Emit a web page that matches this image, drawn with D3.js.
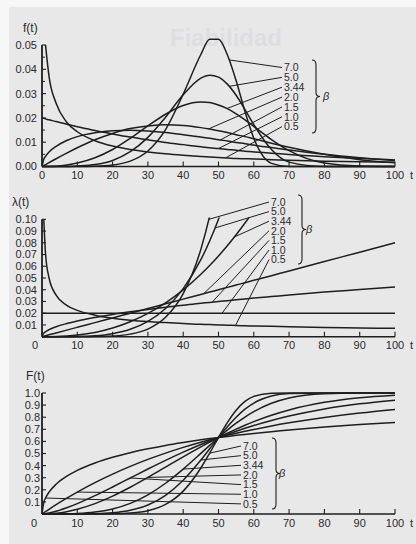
<!DOCTYPE html>
<html><head><meta charset="utf-8">
<script src="https://cdn.jsdelivr.net/npm/d3@7"></script>
<style>
html,body{margin:0;padding:0;background:#fff;}
svg{display:block;}
text{font-family:"Liberation Sans",Arial,sans-serif;}
</style></head><body>
<svg id="c" width="416" height="544"></svg>
<script>
// time grid (t)
const T = [0, 0.5, 1, 2, 4, 7, 10, 15, 20, 25, 30, 35, 40, 45, 47.5, 50, 52.5, 55, 57.5, 60, 65, 70, 80, 90, 100];
const betaLabels = ["7.0", "5.0", "3.44", "2.0", "1.5", "1.0", "0.5"];
const xTickLabels = [0, 10, 20, 30, 40, 50, 60, 70, 80, 90, 100];

// f(t), one array per beta
const f_b7   = [0,0,0,0,0,0,0,0.0001,0.0006,0.0022,0.0064,0.0152,0.0298,0.0461,0.0524,0.0524,0.046,0.0353,0.0226,0.0116,0.0013,0,0,0,0];
const f_b5   = [0,0,0,0,0,0,0.0002,0.0008,0.0025,0.0061,0.012,0.0203,0.0295,0.0364,0.0376,0.0368,0.0339,0.0293,0.0234,0.0172,0.007,0.0018,0,0,0];
const f_b344 = [0,0,0,0,0.0001,0.0006,0.0014,0.0036,0.007,0.0116,0.0167,0.0215,0.0251,0.0265,0.0263,0.0253,0.0238,0.0217,0.0192,0.0165,0.0111,0.0065,0.0014,0.0002,0];
const f_b2   = [0,0.0004,0.0008,0.0016,0.0032,0.0055,0.0077,0.011,0.0136,0.0156,0.0167,0.0172,0.0169,0.016,0.0154,0.0147,0.014,0.0131,0.0123,0.0114,0.0096,0.0079,0.005,0.0028,0.0015];
const f_b15  = [0,0.003,0.0042,0.006,0.0083,0.0107,0.0123,0.0139,0.0147,0.0149,0.0146,0.014,0.0131,0.0121,0.0116,0.011,0.0105,0.0099,0.0094,0.0088,0.0078,0.0068,0.005,0.0036,0.0025];
const f_b1   = [0.02,0.0198,0.0196,0.0192,0.0185,0.0174,0.0164,0.0148,0.0134,0.0121,0.011,0.0099,0.009,0.0081,0.0077,0.0074,0.007,0.0067,0.0063,0.006,0.0055,0.0049,0.004,0.0033,0.0027];
const f_b05  = [null,null,0.05,0.037,0.026,0.0182,0.0143,0.0106,0.0084,0.007,0.006,0.0052,0.0046,0.0041,0.0039,0.0037,0.0035,0.0033,0.0032,0.0031,0.0028,0.0026,0.0022,0.002,0.0017];

// lambda(t)
const l_b7   = [0,0,0,0,0,0,0,0.0001,0.0006,0.0022,0.0065,0.0165,0.0367,0.0744,0.1029,0.14,0.1876,0.248,0.3238,0.418,0.676,1.054,2.36,4.3,8.96];
const l_b5   = [0,0,0,0,0,0,0.0002,0.0008,0.0026,0.0063,0.013,0.024,0.041,0.0656,0.0815,0.1,0.1216,0.1464,0.1749,0.2074,0.2856,0.384,0.655,1.05,1.6];
const l_b344 = [0,0,0,0,0.0001,0.0006,0.0014,0.0036,0.0074,0.0127,0.0198,0.0288,0.0399,0.0532,0.0607,0.0688,0.0775,0.0868,0.0968,0.1074,0.1305,0.1564,0.2166,0.2887,0.3732];
const l_b2   = [0,0.0004,0.0008,0.0016,0.0032,0.0056,0.008,0.012,0.016,0.02,0.024,0.028,0.032,0.036,0.038,0.04,0.042,0.044,0.046,0.048,0.052,0.056,0.064,0.072,0.08];
const l_b15  = [0,0.003,0.0042,0.006,0.0085,0.0112,0.0134,0.0164,0.019,0.0212,0.0232,0.0251,0.0268,0.0285,0.0292,0.03,0.0307,0.0315,0.0322,0.0329,0.0342,0.0355,0.038,0.0402,0.0424];
const l_b1   = [0.02,0.02,0.02,0.02,0.02,0.02,0.02,0.02,0.02,0.02,0.02,0.02,0.02,0.02,0.02,0.02,0.02,0.02,0.02,0.02,0.02,0.02,0.02,0.02,0.02];
const l_b05  = [null,0.1,0.0707,0.05,0.0354,0.0267,0.0224,0.0183,0.0158,0.0141,0.0129,0.012,0.0112,0.0105,0.0103,0.01,0.0098,0.0095,0.0093,0.0091,0.0088,0.0085,0.0079,0.0075,0.0071];

// F(t)
const F_b7   = [0,0,0,0,0,0,0,0.0002,0.0016,0.0078,0.0276,0.079,0.1892,0.3802,0.5026,0.6321,0.7551,0.8575,0.9301,0.9722,0.9981,1,1,1,1];
const F_b5   = [0,0,0,0,0,0.0001,0.0003,0.0024,0.0102,0.0308,0.0748,0.1547,0.2794,0.4459,0.5387,0.6321,0.7209,0.8002,0.8662,0.917,0.9756,0.9954,1,1,1];
const F_b344 = [0,0,0,0,0.0002,0.0012,0.0039,0.0158,0.0419,0.088,0.1584,0.2541,0.3713,0.5014,0.5676,0.6321,0.6936,0.7504,0.8016,0.8462,0.9151,0.9585,0.9935,0.9995,1];
const F_b2   = [0,0.0001,0.0004,0.0016,0.0064,0.0194,0.0392,0.0861,0.1479,0.2212,0.3023,0.3874,0.4727,0.5551,0.5944,0.6321,0.6679,0.7018,0.7335,0.7631,0.8155,0.8591,0.9227,0.9608,0.9817];
const F_b15  = [0,0.001,0.0028,0.008,0.0224,0.051,0.0855,0.1515,0.2235,0.2978,0.3717,0.4433,0.5111,0.5742,0.6038,0.6321,0.659,0.6845,0.7086,0.7314,0.7728,0.8092,0.8679,0.9106,0.9409];
const F_b1   = [0,0.01,0.0198,0.0392,0.0769,0.1306,0.1813,0.2592,0.3297,0.3935,0.4512,0.5034,0.5507,0.5934,0.6133,0.6321,0.6501,0.6671,0.6834,0.6988,0.7275,0.7534,0.7981,0.8347,0.8647];
const F_b05  = [0,0.095,0.132,0.181,0.246,0.312,0.361,0.422,0.469,0.507,0.539,0.567,0.591,0.613,0.623,0.632,0.641,0.65,0.658,0.666,0.68,0.694,0.718,0.739,0.757];

// where each label's leader line meets its curve (t value), order as betaLabels
const leaderT_f = [53, 53, 52.4, 47.2, 50.5, 50, 52];
const leaderT_l = [47.3, 49, 54.5, 45.8, 48.2, 51, 54.8];
const leaderT_F = [47.5, 45, 40, 30, 25, 10, 1];

const fTicks = [0, 0.01, 0.02, 0.03, 0.04, 0.05];
const fMinor = [0.005, 0.015, 0.025, 0.035, 0.045];
const lTicks = [0.01, 0.02, 0.03, 0.04, 0.05, 0.06, 0.07, 0.08, 0.09, 0.10];
const FTicks = [0.1, 0.2, 0.3, 0.4, 0.5, 0.6, 0.7, 0.8, 0.9, 1.0];

const svg = d3.select("#c");
svg.append("rect").attr("x", 0).attr("y", 0).attr("width", 416).attr("height", 544).attr("fill", "#f7f7f7");
svg.append("rect").attr("x", 9).attr("y", 7).attr("width", 407).attr("height", 537).attr("fill", "#e8e8e9");
svg.append("text").text("Fiabilidad").attr("x", 170).attr("y", 46)
  .attr("font-size", 24).attr("font-weight", "bold").attr("fill", "#dedee0");

const INK = "#1e1e1e";
const x = d3.scaleLinear().domain([0, 100]).range([42, 395]);

const panels = [
  { series: [f_b7, f_b5, f_b344, f_b2, f_b15, f_b1, f_b05], y: d3.scaleLinear().domain([0, 0.05]).range([166.5, 45]),
    ticks: fTicks, minor: fMinor, fmt: d => d.toFixed(2), labelEnd: 37, title: "f(t)", titleX: 23, titleY: 32,
    xlabY: 178.5, zeroX: 42, clipTop: 0.057, legX: 284, legY0: 67.5, legDy: 9.85, braceX: 312, braceY1: 60, braceY2: 133, betaX: 323,
    leaderT: leaderT_f, axisTop: 0.05 },
  { series: [l_b7, l_b5, l_b344, l_b2, l_b15, l_b1, l_b05], y: d3.scaleLinear().domain([0, 0.10]).range([336.7, 219.3]),
    ticks: lTicks, minor: [], fmt: d => d.toFixed(2), labelEnd: 37, title: "λ(t)", titleX: 12, titleY: 206,
    xlabY: 349, zeroX: 35, clipTop: 0.1015, legX: 271, legY0: 202, legDy: 9.6, braceX: 298, braceY1: 195, braceY2: 264, betaX: 306,
    leaderT: leaderT_l, axisTop: 0.10 },
  { series: [F_b7, F_b5, F_b344, F_b2, F_b15, F_b1, F_b05], y: d3.scaleLinear().domain([0, 1]).range([514, 393]),
    ticks: FTicks, minor: [], fmt: d => d.toFixed(1), labelEnd: 40, title: "F(t)", titleX: 26, titleY: 380,
    xlabY: 527, zeroX: 34, clipTop: 1.05, legX: 243, legY0: 446, legDy: 9.65, braceX: 272, braceY1: 438, braceY2: 509, betaX: 279,
    leaderT: leaderT_F, axisTop: 1.0 }
];

function interp(arr, t) {
  for (let i = 0; i < T.length - 1; i++) {
    if (t >= T[i] && t <= T[i + 1]) {
      const a = arr[i] == null ? arr[i + 1] : arr[i];
      const b = arr[i + 1];
      return a + (b - a) * (t - T[i]) / (T[i + 1] - T[i]);
    }
  }
  return arr[arr.length - 1];
}

panels.forEach((p, pi) => {
  const g = svg.append("g");
  const y = p.y;
  const y0 = y(0);
  const cid = "clip" + pi;
  svg.append("clipPath").attr("id", cid).append("rect")
    .attr("x", x(0)).attr("y", y(p.clipTop)).attr("width", x(100) - x(0) + 2).attr("height", y0 - y(p.clipTop) + 2);

  // axes
  g.append("line").attr("x1", x(0)).attr("x2", x(100)).attr("y1", y0).attr("y2", y0)
    .attr("stroke", INK).attr("stroke-width", 1.6);
  g.append("line").attr("x1", x(0)).attr("x2", x(0)).attr("y1", y0).attr("y2", y(p.axisTop))
    .attr("stroke", INK).attr("stroke-width", 1.8);
  g.selectAll(".xt").data(xTickLabels.filter(d => d > 0)).enter().append("line")
    .attr("x1", d => x(d)).attr("x2", d => x(d)).attr("y1", y0).attr("y2", y0 - 5)
    .attr("stroke", INK).attr("stroke-width", 1.1);
  g.selectAll(".xl").data(xTickLabels).enter().append("text")
    .attr("x", d => d === 0 ? p.zeroX : x(d)).attr("y", p.xlabY)
    .attr("text-anchor", "middle").attr("font-size", 11).attr("fill", "#2a2a2a")
    .text(d => d);
  g.append("text").attr("x", 410).attr("y", p.xlabY).attr("font-size", 11).attr("fill", "#2a2a2a").text("t");
  g.selectAll(".yt").data(p.ticks).enter().append("line")
    .attr("x1", x(0)).attr("x2", x(0) + 4).attr("y1", d => y(d)).attr("y2", d => y(d))
    .attr("stroke", INK).attr("stroke-width", 1.1);
  g.selectAll(".ym").data(p.minor).enter().append("line")
    .attr("x1", x(0)).attr("x2", x(0) + 3).attr("y1", d => y(d)).attr("y2", d => y(d))
    .attr("stroke", INK).attr("stroke-width", 1);
  g.selectAll(".yl").data(p.ticks).enter().append("text")
    .attr("x", p.labelEnd).attr("y", d => y(d)).attr("dy", "0.36em")
    .attr("text-anchor", "end").attr("font-size", 11).attr("fill", "#2a2a2a")
    .text(d => p.fmt(d));
  g.append("text").attr("x", p.titleX).attr("y", p.titleY).attr("font-size", 12).attr("fill", "#2a2a2a").text(p.title);

  // curves
  const line = d3.line().defined(d => d[1] != null)
    .x(d => x(d[0])).y(d => y(d[1])).curve(d3.curveMonotoneX);
  const cg = g.append("g").attr("clip-path", "url(#" + cid + ")");
  p.series.forEach(s => {
    cg.append("path").attr("d", line(T.map((t, i) => [t, s[i]])))
      .attr("fill", "none").attr("stroke", INK).attr("stroke-width", 1.5);
  });

  // legend labels + leaders
  betaLabels.forEach((lab, i) => {
    const ly = p.legY0 + i * p.legDy;
    g.append("text").attr("x", p.legX).attr("y", ly).attr("dy", "0.36em")
      .attr("font-size", 10.5).attr("fill", "#2a2a2a").text(lab);
    const t = p.leaderT[i];
    let v = interp(p.series[i], t);
    v = Math.min(v, p.axisTop);
    g.append("line").attr("x1", p.legX - 2).attr("y1", ly).attr("x2", x(t)).attr("y2", y(v))
      .attr("stroke", INK).attr("stroke-width", 1);
  });
  const bx = p.braceX, b1 = p.braceY1, b2 = p.braceY2, bm = (b1 + b2) / 2;
  const path = `M${bx},${b1} Q${bx + 4},${b1} ${bx + 4},${b1 + 5} L${bx + 4},${bm - 4} Q${bx + 4},${bm} ${bx + 8},${bm} Q${bx + 4},${bm} ${bx + 4},${bm + 4} L${bx + 4},${b2 - 5} Q${bx + 4},${b2} ${bx},${b2}`;
  g.append("path").attr("d", path).attr("fill", "none").attr("stroke", INK).attr("stroke-width", 1.1);
  g.append("text").attr("x", p.betaX).attr("y", bm).attr("dy", "0.36em").attr("font-size", 11)
    .attr("font-style", "italic").attr("fill", "#2a2a2a").text("β");
});
</script>
</body></html>
